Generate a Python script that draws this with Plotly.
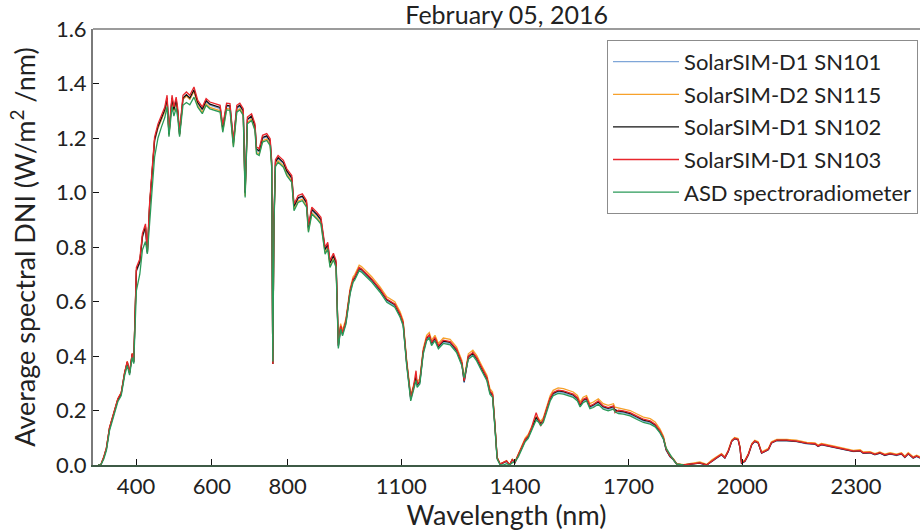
import plotly.graph_objects as go

# Wavelength grid (nm) shared by the SolarSIM series
wavelength = [300, 307, 315, 322, 330, 341, 352, 361, 370, 377, 383, 390, 394, 401, 410, 417, 425, 430, 436, 443,
              449, 458, 467, 476, 482, 487, 495, 500, 506, 510, 515, 524, 533, 542, 553, 563, 575, 585, 595, 608,
              622, 629, 639, 648, 657, 666, 674, 683, 688, 694, 705, 714, 718, 725, 734, 745, 754, 758, 761, 764,
              768, 775, 789, 798, 811, 817, 828, 839, 850, 855, 864, 877, 888, 899, 906, 912, 921, 928, 934, 940,
              945, 954, 965, 973, 977, 989, 995, 1009, 1022, 1044, 1062, 1083, 1097, 1105, 1114, 1125, 1132, 1139, 1142, 1149,
              1158, 1167, 1174, 1180, 1189, 1198, 1211, 1229, 1246, 1260, 1266, 1277, 1289, 1299, 1312, 1326, 1334, 1341, 1347, 1353,
              1361, 1370, 1378, 1386, 1393, 1400, 1409, 1418, 1427, 1435, 1444, 1449, 1456, 1462, 1468, 1475, 1484, 1493, 1501, 1514,
              1528, 1541, 1554, 1565, 1572, 1580, 1589, 1598, 1607, 1620, 1633, 1646, 1660, 1664, 1673, 1686, 1704, 1721, 1739, 1757,
              1770, 1783, 1792, 1799, 1809, 1818, 1827, 1845,
              1862, 1880, 1888, 1906, 1919, 1932, 1945, 1954, 1963, 1972, 1980, 1989, 1994, 1998, 2007, 2016, 2025, 2033, 2042, 2051,
              2060, 2069, 2077, 2091, 2117, 2143, 2170, 2192, 2200, 2209, 2240, 2267, 2293, 2311, 2319, 2337, 2350, 2363, 2376, 2390,
              2407, 2420, 2429, 2438, 2451, 2460, 2469]

sn103 = [0.000, 0.000, 0.030, 0.064, 0.137, 0.186, 0.243, 0.266, 0.340, 0.380, 0.340, 0.410, 0.380, 0.725, 0.756, 0.850, 0.885, 0.787, 0.964, 1.093,
         1.203, 1.252, 1.283, 1.314, 1.357, 1.222, 1.357, 1.314, 1.350, 1.310, 1.222, 1.357, 1.369, 1.357, 1.387, 1.338, 1.314, 1.345, 1.332, 1.326,
         1.320, 1.246, 1.328, 1.326, 1.191, 1.320, 1.328, 1.308, 1.007, 1.277, 1.289, 1.252, 1.167, 1.161, 1.210, 1.216, 1.197, 1.118, 0.371, 0.900,
         1.120, 1.136, 1.118, 1.087, 1.062, 0.958, 0.989, 0.995, 0.971, 0.879, 0.946, 0.928, 0.909, 0.799, 0.817, 0.750, 0.777, 0.750, 0.440, 0.511,
         0.486, 0.529, 0.640, 0.683, 0.690, 0.725, 0.720, 0.701, 0.683, 0.646, 0.609, 0.591, 0.554, 0.523, 0.382, 0.247, 0.284, 0.346, 0.297, 0.309,
         0.419, 0.468, 0.478, 0.450, 0.468, 0.438, 0.458, 0.453, 0.425, 0.376, 0.309, 0.400, 0.413, 0.394, 0.358, 0.321, 0.272, 0.260, 0.150, 0.027,
         0.003, 0.010, 0.015, 0.000, 0.020, 0.010, 0.039, 0.064, 0.094, 0.107, 0.137, 0.162, 0.192, 0.168, 0.143, 0.168, 0.211, 0.247, 0.266, 0.275,
         0.272, 0.266, 0.260, 0.247, 0.223, 0.241, 0.247, 0.217, 0.223, 0.235, 0.217, 0.211, 0.217, 0.192, 0.201, 0.199, 0.192, 0.180, 0.168, 0.162,
         0.150, 0.125, 0.100, 0.058, 0.033, 0.021, 0.003, 0.000,
         0.003, 0.008, 0.008, 0.000, 0.015, 0.027, 0.039, 0.027, 0.051, 0.088, 0.098, 0.094, 0.064, 0.008, 0.015, 0.039, 0.076, 0.088, 0.082, 0.045,
         0.051, 0.058, 0.082, 0.091, 0.091, 0.088, 0.080, 0.078, 0.070, 0.076, 0.067, 0.058, 0.051, 0.053, 0.045, 0.046, 0.039, 0.045, 0.037, 0.042,
         0.037, 0.042, 0.029, 0.042, 0.027, 0.033, 0.027]

sn101 = [0.000, 0.000, 0.027, 0.059, 0.132, 0.181, 0.238, 0.261, 0.335, 0.375, 0.335, 0.405, 0.375, 0.710, 0.741, 0.835, 0.870, 0.775, 0.949, 1.078,
         1.188, 1.237, 1.268, 1.299, 1.342, 1.210, 1.342, 1.299, 1.335, 1.295, 1.210, 1.342, 1.354, 1.342, 1.372, 1.326, 1.302, 1.333, 1.320, 1.314,
         1.308, 1.234, 1.316, 1.314, 1.179, 1.308, 1.316, 1.296, 0.995, 1.265, 1.277, 1.240, 1.155, 1.149, 1.198, 1.204, 1.185, 1.106, 0.371, 0.888,
         1.108, 1.124, 1.106, 1.075, 1.050, 0.946, 0.977, 0.983, 0.959, 0.867, 0.934, 0.916, 0.897, 0.787, 0.805, 0.738, 0.765, 0.738, 0.432, 0.503,
         0.478, 0.521, 0.632, 0.675, 0.682, 0.717, 0.712, 0.693, 0.675, 0.638, 0.601, 0.583, 0.546, 0.515, 0.374, 0.239, 0.276, 0.320, 0.289, 0.301,
         0.411, 0.460, 0.470, 0.442, 0.460, 0.430, 0.450, 0.445, 0.417, 0.368, 0.301, 0.392, 0.405, 0.386, 0.350, 0.313, 0.264, 0.252, 0.145, 0.025,
         0.002, 0.008, 0.012, 0.000, 0.017, 0.008, 0.035, 0.058, 0.088, 0.101, 0.131, 0.150, 0.170, 0.160, 0.150, 0.162, 0.204, 0.240, 0.259, 0.268,
         0.265, 0.259, 0.253, 0.240, 0.216, 0.234, 0.240, 0.210, 0.216, 0.228, 0.210, 0.204, 0.210, 0.200, 0.194, 0.192, 0.185, 0.173, 0.161, 0.155,
         0.143, 0.118, 0.094, 0.054, 0.030, 0.019, 0.002, 0.000,
         0.002, 0.007, 0.006, 0.000, 0.013, 0.025, 0.037, 0.025, 0.049, 0.086, 0.096, 0.092, 0.062, 0.006, 0.013, 0.037, 0.074, 0.086, 0.080, 0.043,
         0.049, 0.056, 0.080, 0.089, 0.089, 0.086, 0.078, 0.076, 0.068, 0.074, 0.065, 0.056, 0.049, 0.051, 0.043, 0.044, 0.037, 0.043, 0.035, 0.040,
         0.035, 0.040, 0.027, 0.040, 0.025, 0.031, 0.025]

sn115 = [0.000, 0.000, 0.030, 0.064, 0.137, 0.186, 0.243, 0.266, 0.340, 0.380, 0.340, 0.410, 0.380, 0.715, 0.746, 0.840, 0.875, 0.780, 0.954, 1.083,
         1.193, 1.237, 1.268, 1.299, 1.342, 1.210, 1.342, 1.299, 1.335, 1.295, 1.210, 1.342, 1.354, 1.342, 1.372, 1.318, 1.294, 1.325, 1.312, 1.306,
         1.300, 1.226, 1.308, 1.306, 1.171, 1.300, 1.308, 1.288, 0.987, 1.257, 1.269, 1.232, 1.147, 1.141, 1.190, 1.196, 1.177, 1.098, 0.371, 0.880,
         1.100, 1.116, 1.098, 1.067, 1.042, 0.938, 0.969, 0.975, 0.951, 0.859, 0.926, 0.908, 0.889, 0.779, 0.797, 0.730, 0.757, 0.730, 0.448, 0.519,
         0.494, 0.537, 0.648, 0.691, 0.698, 0.733, 0.728, 0.709, 0.691, 0.654, 0.617, 0.599, 0.562, 0.531, 0.390, 0.255, 0.292, 0.325, 0.305, 0.317,
         0.427, 0.476, 0.486, 0.458, 0.476, 0.446, 0.466, 0.461, 0.433, 0.384, 0.317, 0.408, 0.421, 0.402, 0.366, 0.329, 0.280, 0.268, 0.155, 0.029,
         0.004, 0.011, 0.016, 0.002, 0.021, 0.012, 0.042, 0.068, 0.099, 0.112, 0.143, 0.158, 0.178, 0.172, 0.160, 0.174, 0.218, 0.255, 0.274, 0.283,
         0.280, 0.274, 0.268, 0.255, 0.231, 0.249, 0.255, 0.225, 0.231, 0.243, 0.225, 0.219, 0.225, 0.212, 0.209, 0.207, 0.200, 0.188, 0.176, 0.170,
         0.158, 0.132, 0.106, 0.062, 0.036, 0.023, 0.005, 0.001,
         0.005, 0.010, 0.011, 0.002, 0.018, 0.030, 0.042, 0.030, 0.054, 0.091, 0.101, 0.097, 0.067, 0.011, 0.018, 0.042, 0.079, 0.091, 0.085, 0.048,
         0.054, 0.061, 0.085, 0.094, 0.094, 0.091, 0.083, 0.081, 0.073, 0.079, 0.070, 0.061, 0.054, 0.056, 0.048, 0.049, 0.042, 0.048, 0.040, 0.045,
         0.040, 0.045, 0.032, 0.045, 0.030, 0.036, 0.030]

sn102 = [0.000, 0.000, 0.028, 0.061, 0.134, 0.183, 0.240, 0.263, 0.337, 0.377, 0.337, 0.407, 0.377, 0.715, 0.746, 0.840, 0.875, 0.780, 0.954, 1.083,
         1.193, 1.242, 1.273, 1.304, 1.347, 1.215, 1.347, 1.304, 1.340, 1.300, 1.215, 1.347, 1.359, 1.347, 1.377, 1.330, 1.306, 1.337, 1.324, 1.318,
         1.312, 1.238, 1.320, 1.318, 1.183, 1.312, 1.320, 1.300, 0.999, 1.269, 1.281, 1.244, 1.159, 1.153, 1.202, 1.208, 1.189, 1.110, 0.371, 0.892,
         1.112, 1.128, 1.110, 1.079, 1.054, 0.950, 0.981, 0.987, 0.963, 0.871, 0.938, 0.920, 0.901, 0.791, 0.809, 0.742, 0.769, 0.742, 0.437, 0.508,
         0.483, 0.526, 0.637, 0.680, 0.687, 0.722, 0.717, 0.698, 0.680, 0.643, 0.606, 0.588, 0.551, 0.520, 0.379, 0.244, 0.281, 0.322, 0.294, 0.306,
         0.416, 0.465, 0.475, 0.447, 0.465, 0.435, 0.455, 0.450, 0.422, 0.373, 0.306, 0.397, 0.410, 0.391, 0.355, 0.318, 0.269, 0.257, 0.148, 0.026,
         0.003, 0.009, 0.014, 0.000, 0.019, 0.009, 0.037, 0.061, 0.091, 0.104, 0.134, 0.154, 0.174, 0.165, 0.152, 0.165, 0.208, 0.244, 0.263, 0.272,
         0.269, 0.263, 0.257, 0.244, 0.220, 0.238, 0.244, 0.214, 0.220, 0.232, 0.214, 0.208, 0.214, 0.203, 0.198, 0.196, 0.189, 0.177, 0.165, 0.159,
         0.147, 0.122, 0.097, 0.056, 0.032, 0.020, 0.003, 0.000,
         0.003, 0.008, 0.007, 0.000, 0.014, 0.026, 0.038, 0.026, 0.050, 0.087, 0.097, 0.093, 0.063, 0.007, 0.014, 0.038, 0.075, 0.087, 0.081, 0.044,
         0.050, 0.057, 0.081, 0.090, 0.090, 0.087, 0.079, 0.077, 0.069, 0.075, 0.066, 0.057, 0.050, 0.052, 0.044, 0.045, 0.038, 0.044, 0.036, 0.041,
         0.036, 0.041, 0.028, 0.041, 0.026, 0.032, 0.026]

# ASD spectroradiometer covers 300-1845 nm only
asd_wavelength = wavelength[:168]
asd = [0.000, 0.000, 0.022, 0.054, 0.125, 0.176, 0.232, 0.255, 0.328, 0.365, 0.330, 0.395, 0.372, 0.640, 0.700, 0.790, 0.820, 0.775, 0.900, 1.020,
       1.130, 1.200, 1.240, 1.275, 1.315, 1.205, 1.315, 1.280, 1.310, 1.275, 1.205, 1.320, 1.330, 1.322, 1.350, 1.313, 1.289, 1.320, 1.307, 1.301,
       1.295, 1.221, 1.303, 1.301, 1.166, 1.295, 1.303, 1.283, 0.982, 1.252, 1.264, 1.227, 1.142, 1.136, 1.185, 1.191, 1.172, 1.093, 0.380, 0.875,
       1.095, 1.111, 1.093, 1.062, 1.037, 0.933, 0.964, 0.970, 0.946, 0.854, 0.921, 0.903, 0.884, 0.774, 0.792, 0.725, 0.752, 0.725, 0.428, 0.499,
       0.474, 0.517, 0.628, 0.671, 0.678, 0.713, 0.708, 0.689, 0.671, 0.634, 0.597, 0.579, 0.542, 0.511, 0.370, 0.235, 0.272, 0.310, 0.285, 0.297,
       0.407, 0.456, 0.466, 0.438, 0.456, 0.426, 0.446, 0.441, 0.413, 0.364, 0.320, 0.388, 0.401, 0.382, 0.346, 0.309, 0.260, 0.248, 0.140, 0.022,
       0.000, 0.000, 0.005, 0.000, 0.008, 0.012, 0.030, 0.055, 0.085, 0.098, 0.127, 0.145, 0.165, 0.158, 0.145, 0.156, 0.199, 0.235, 0.254, 0.263,
       0.260, 0.254, 0.248, 0.235, 0.213, 0.229, 0.235, 0.207, 0.211, 0.223, 0.205, 0.199, 0.205, 0.195, 0.189, 0.187, 0.180, 0.168, 0.156, 0.150,
       0.140, 0.118, 0.095, 0.062, 0.038, 0.020, 0.003, 0.000]

series = [
    ("SolarSIM-D1 SN101", wavelength, sn101, "#7fa6d8"),
    ("SolarSIM-D2 SN115", wavelength, sn115, "#f7a12b"),
    ("SolarSIM-D1 SN102", wavelength, sn102, "#111111"),
    ("SolarSIM-D1 SN103", wavelength, sn103, "#e8262c"),
    ("ASD spectroradiometer", asd_wavelength, asd, "#2a9a58"),
]

x_ticks = [400, 600, 800, 1100, 1400, 1700, 2000, 2300]
y_ticks = [0.0, 0.2, 0.4, 0.6, 0.8, 1.0, 1.2, 1.4, 1.6]

FONT = "Lato"
fig = go.Figure()
for i, (name, xs, ys, col) in enumerate(series):
    fig.add_trace(go.Scatter(x=xs, y=ys, mode="lines", name=name, legendgroup=str(i),
                             line=dict(color=col, width=1.3)))

fig.update_layout(
    width=920, height=531,
    margin=dict(l=93, r=0, t=29, b=66),
    paper_bgcolor="white", plot_bgcolor="white",
    font=dict(family=FONT, color="#222222", size=20),
    title=dict(text="February 05, 2016", x=0.5507, xanchor="center", y=0.972, yanchor="middle",
               font=dict(family=FONT, size=25, color="#222222")),
    showlegend=True,
    legend=dict(x=0.9976, xanchor="right", y=0.975, yanchor="top",
                bordercolor="#8c8c8c", borderwidth=1, bgcolor="white",
                font=dict(family=FONT, size=22, color="#222222"),
                tracegroupgap=1, itemwidth=66),
    shapes=[dict(type="line", xref="paper", yref="paper", x0=0, x1=1, y0=1, y1=1,
                 line=dict(color="#7a7a7a", width=1.5))],
)
fig.update_xaxes(range=[286.5, 2469], tickvals=x_ticks, ticks="inside", ticklen=6, tickcolor="#111111",
                 showline=True, linecolor="#3e5a46", linewidth=2, showgrid=False, zeroline=False,
                 tickfont=dict(size=22), ticklabelstandoff=1,
                 title=dict(text="Wavelength (nm)", font=dict(size=27), standoff=3))
fig.update_yaxes(range=[0, 1.6], tickvals=y_ticks, tickformat=".1f", ticks="inside", ticklen=6, tickcolor="#111111",
                 showline=True, linecolor="#7a7a7a", linewidth=2, showgrid=False, zeroline=False,
                 tickfont=dict(size=22),
                 title=dict(text="Average spectral DNI (W/m<sup>2</sup> /nm)", font=dict(size=27), standoff=12))

fig.write_html("out.html", config={"displayModeBar": False})

# remove the default page margin so the figure sits at the window's top-left corner
with open("out.html", encoding="utf-8") as f:
    page = f.read()
page = page.replace("<head>", "<head><style>html,body{margin:0;padding:0;overflow:hidden;}</style>", 1)
with open("out.html", "w", encoding="utf-8") as f:
    f.write(page)
